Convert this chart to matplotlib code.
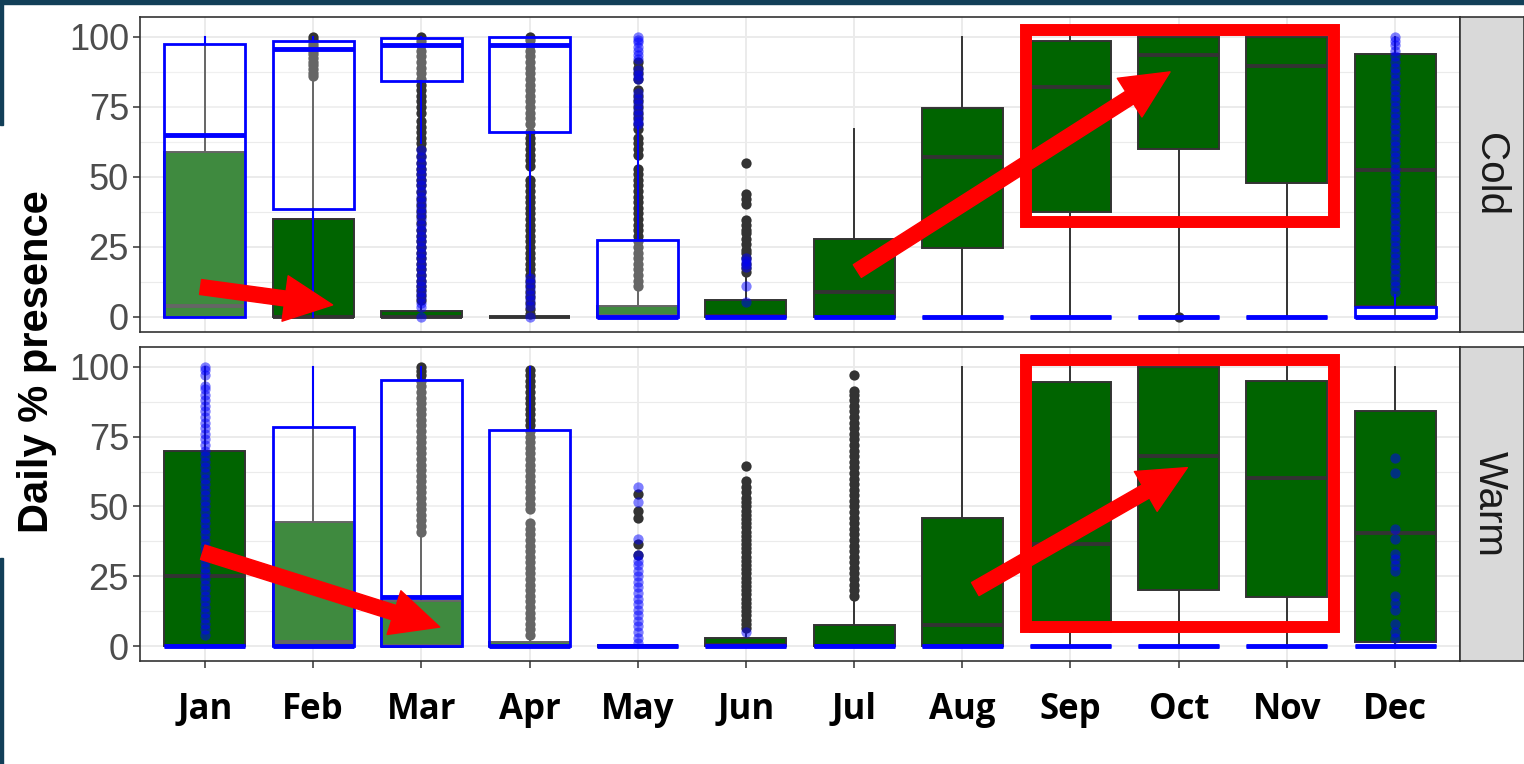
import numpy as np
import matplotlib.pyplot as plt
from matplotlib.patches import Rectangle, FancyArrowPatch

# ---- data ----
months = ["Jan", "Feb", "Mar", "Apr", "May", "Jun", "Jul", "Aug", "Sep", "Oct", "Nov", "Dec"]
yticks = [0, 25, 50, 75, 100]

# Cold panel, green boxplots
cold_g_q1 = [0, 0, 0, 0, 0, 0, 0, 24.5, 37.5, 60, 48, 4]
cold_g_med = [4, 0, 0, 0, 0.5, 0.5, 9, 57, 82, 93.5, 89.5, 52.5]
cold_g_q3 = [59, 35, 2.2, 0, 4, 6, 28, 74.5, 98.5, 100, 100, 94]
cold_g_lo = [0, 0, 0, 0, 0, 0, 0, 0, 0, 1, 0, 0]
cold_g_hi = [100, 85, 5, 0, 10, 14, 67, 100, 100, 100, 100, 100]
cold_g_out = [
    [],
    [86, 87, 88.5, 90, 91, 92.5, 94, 95, 96.5, 97.5, 99, 100],
    [6, 8, 9.5, 11, 13, 15, 17, 19, 21, 23, 25, 27, 29, 31, 33.5, 36, 38, 40, 42, 44.5, 47, 49,
     51, 53, 55, 57.5, 60, 62, 64, 66, 68, 70, 73, 75, 77, 79, 81, 83, 85, 87, 89, 91, 93, 95,
     97, 98.5, 100],
    [1, 3, 5, 7, 9, 11, 13, 15, 17, 19, 21, 23, 25, 27, 29, 31, 33, 35, 37, 39, 41, 43, 45, 47,
     49, 54, 56, 58, 60, 62, 64, 66, 69, 71, 73, 75, 77, 79, 81, 83, 85, 87, 89, 91, 93, 95, 97,
     99, 100],
    [11, 13, 15, 17, 19, 21, 23, 25, 27, 29, 31, 33, 35, 37, 39, 41, 43, 45, 47, 49, 51, 53, 58,
     60, 62, 64, 67, 69, 71, 73, 75, 77, 79, 81, 85, 87, 89, 91],
    [16, 17.5, 19, 21, 23, 24, 26, 28, 30, 31, 33, 34.5, 40.5, 42, 44, 55],
    [], [], [], [0], [], [],
]

# Cold panel, blue boxplots
cold_b_q1 = [0, 38.5, 84.4, 66, 0, 0, 0, 0, 0, 0, 0, 0]
cold_b_med = [65, 95.6, 97, 97, 0, 0, 0, 0, 0, 0, 0, 0]
cold_b_q3 = [97.5, 98.7, 99.7, 99.8, 27.5, 0, 0, 0, 0, 0, 0, 3.5]
cold_b_lo = [0, 0, 62, 15, 0, 0, 0, 0, 0, 0, 0, 0]
cold_b_hi = [100, 100, 100, 100, 68, 0, 0, 0, 0, 0, 0, 8]
cold_b_out = [
    [], [],
    [0, 3.5, 5, 7, 9, 11, 13, 15, 17, 19, 21, 23, 25, 27, 29, 31, 33, 35, 37, 39, 41, 43, 45, 47,
     49, 51, 53, 55, 57, 59.5],
    [0, 4, 6, 8, 10, 12, 14],
    [69, 70, 72, 74, 76, 78, 80, 85, 86.5, 88, 92, 93.5, 95, 96.5, 98, 99, 100],
    [5.5, 11, 18, 19, 20, 21],
    [], [], [], [], [],
    [9, 11, 13, 15, 17, 19, 21, 23, 25, 27, 29, 31, 33, 35, 37, 39, 41, 43, 45, 47, 49, 51, 53,
     55, 57, 59, 61, 63, 65, 67, 69, 71, 73, 75, 77, 79, 81, 83, 85, 87, 89, 91, 93, 95, 97, 98.5,
     100],
]

# Warm panel, green boxplots
warm_g_q1 = [0, 0, 0, 0, 0, 0, 0, 0, 4.9, 20, 17.4, 1.6]
warm_g_med = [25, 1.4, 0, 0, 0, 0.5, 0, 7.6, 36.4, 68.2, 60.2, 40.4]
warm_g_q3 = [70, 44.4, 16, 1.5, 0, 2.7, 7.5, 46, 94.4, 100, 95.1, 84]
warm_g_lo = [0, 0, 0, 0, 0, 0, 0, 0, 0, 0, 0, 0]
warm_g_hi = [100, 100, 40, 3, 0, 6, 17.5, 100, 100, 100, 100, 100]
warm_g_out = [
    [], [],
    [41, 43, 45, 47, 49, 51, 53, 55, 57, 59, 61, 63, 65, 67, 69, 71, 73, 75, 77, 79, 81, 83, 85,
     87, 89, 91, 93, 95, 97, 98.5, 100],
    [4, 6, 8, 10, 12, 14, 16, 18, 20, 22, 24, 26, 28, 30, 32, 34, 36, 38, 40, 42, 44, 49, 51, 53,
     55, 57, 59, 61, 63, 65, 67, 69, 71, 73, 75, 77, 79, 81, 83, 85, 87, 89, 91, 93, 95, 97, 99],
    [32.5, 36.5, 46, 48.5, 54.5],
    [6.5, 8, 9.5, 11, 12.5, 14, 15.5, 17, 18.5, 20, 21.5, 23, 24.5, 26, 27.5, 29, 30.5, 32, 33.5,
     35, 36.5, 38, 39.5, 41, 42.5, 44, 45.5, 47, 48.5, 50, 51.5, 53, 55, 57, 59, 64.5],
    [18, 20, 22, 24, 26, 28, 30, 32, 34, 36, 38, 40, 42, 44, 46, 48, 50, 52, 54, 56, 58, 60, 62,
     64, 66, 68, 70, 72, 74, 76, 78, 80, 82, 84, 86, 88, 90, 91.5, 97],
    [], [], [], [], [],
]

# Warm panel, blue boxplots
warm_b_q1 = [0, 0, 0, 0, 0, 0, 0, 0, 0, 0, 0, 0]
warm_b_med = [0, 0, 17.7, 0, 0, 0, 0, 0, 0, 0, 0, 0]
warm_b_q3 = [0, 78.5, 95.4, 77.3, 0, 0, 0, 0, 0, 0, 0, 0]
warm_b_lo = [0, 0, 0, 0, 0, 0, 0, 0, 0, 0, 0, 0]
warm_b_hi = [0, 100, 100, 100, 0, 0, 0, 0, 0, 0, 0, 0]
warm_b_out = [
    [4, 6, 8, 10, 12, 14, 16, 18, 20, 22, 24, 26, 28, 30, 32, 34, 36, 38, 40, 42, 44, 46, 48, 50,
     52, 54, 56, 58, 60, 62, 64, 66, 68, 70, 72, 74, 76, 78, 80, 82, 84, 86, 88, 90, 92, 93, 97,
     99, 100],
    [], [], [],
    [1, 3, 5, 7, 9, 11, 13, 15, 17, 19, 21, 23, 25, 27, 29, 30.5, 32.5, 38.5, 51.5, 57],
    [5],
    [], [], [], [], [],
    [3, 5, 8, 13, 15.5, 18, 27, 29, 31, 33, 38.5, 42, 62, 67.5],
]

W, H = 1524, 764


def px_rect(l, t, r, b):
    return [l / W, 1 - b / H, (r - l) / W, (b - t) / H]


def boxes(ax, q1, med, q3, lo, hi, out, face, edge, lw, wlw, mlw, fl, z):
    stats = [dict(q1=a, med=m, q3=b, whislo=l, whishi=h, fliers=np.array(f, dtype=float))
             for a, m, b, l, h, f in zip(q1, med, q3, lo, hi, out)]
    ax.bxp(stats, positions=np.arange(1, 13), widths=0.75, patch_artist=True,
           showcaps=False, manage_ticks=False, zorder=z,
           boxprops=dict(facecolor=face, edgecolor=edge, linewidth=lw),
           whiskerprops=dict(color=edge, linewidth=wlw),
           medianprops=dict(color=edge, linewidth=mlw, solid_capstyle='butt'),
           flierprops=fl)


green_fl = dict(marker='o', markerfacecolor='#333333', markeredgecolor='none',
                markersize=7.4, linestyle='none')
blue_fl = dict(marker='o', markerfacecolor='blue', markeredgecolor='none',
               markersize=7.4, linestyle='none', alpha=0.5)

fig = plt.figure(figsize=(15.24, 7.64), dpi=100)
fig.patch.set_facecolor('white')

ax_top = fig.add_axes(px_rect(140, 17, 1460, 332))
ax_bot = fig.add_axes(px_rect(140, 347, 1460, 661))

panels = [
    (ax_top, "Cold", (cold_g_q1, cold_g_med, cold_g_q3, cold_g_lo, cold_g_hi, cold_g_out),
     (cold_b_q1, cold_b_med, cold_b_q3, cold_b_lo, cold_b_hi, cold_b_out), (17, 332)),
    (ax_bot, "Warm", (warm_g_q1, warm_g_med, warm_g_q3, warm_g_lo, warm_g_hi, warm_g_out),
     (warm_b_q1, warm_b_med, warm_b_q3, warm_b_lo, warm_b_hi, warm_b_out), (347, 661)),
]

for ax, name, g, b, (t, btm) in panels:
    boxes(ax, *g, face='#006400', edge='#333333', lw=1.4, wlw=1.4, mlw=2.8, fl=green_fl, z=2)
    boxes(ax, *b, face=(1, 1, 1, 0.25), edge='blue', lw=2.0, wlw=1.5, mlw=3.5, fl=blue_fl, z=3)

    ax.set_xlim(0.4, 12.6)
    ax.set_ylim(-5.36, 107.1)
    ax.set_yticks(yticks)
    ax.set_yticks([12.5, 37.5, 62.5, 87.5], minor=True)
    ax.set_xticks(np.arange(1, 13))
    ax.set_axisbelow(True)
    ax.grid(which='major', color='#ebebeb', linewidth=1.4)
    ax.grid(which='minor', axis='y', color='#ebebeb', linewidth=0.8)
    for s in ax.spines.values():
        s.set_color('#333333')
        s.set_linewidth(1.2)
    ax.tick_params(axis='y', which='major', length=5, width=1.1, color='#333333',
                   labelsize=26, labelcolor='#4d4d4d', pad=3)
    ax.tick_params(which='minor', length=0)
    for lab in ax.get_yticklabels():
        lab.set_fontfamily('Liberation Sans')

    # facet strip on the right
    sax = fig.add_axes(px_rect(1460, t, 1524, btm))
    sax.set_facecolor('#d9d9d9')
    sax.set_xticks([])
    sax.set_yticks([])
    for s in sax.spines.values():
        s.set_color('#333333')
        s.set_linewidth(1.2)
    sax.text(30 / 64, 0.5, name, rotation=-90, ha='center', va='center',
             fontsize=29, color='#1a1a1a', family='Liberation Sans')

ax_top.tick_params(axis='x', length=0, labelbottom=False)
ax_bot.set_xticklabels(months)
ax_bot.tick_params(axis='x', length=5, width=1.1, color='#333333', pad=17)
for lab in ax_bot.get_xticklabels():
    lab.set_fontfamily('Open Sans')
    lab.set_fontweight('bold')
    lab.set_fontsize(25)
    lab.set_color('black')

fig.text(37 / W, 1 - 362 / H, "Daily % presence", rotation=90, ha='center', va='center',
         fontsize=30, fontweight='bold', family='Liberation Sans', color='black')

# red highlight boxes and arrows
for ax, y0, y1 in [(ax_top, 33.75, 102.5), (ax_bot, 6.8, 102.5)]:
    ax.add_patch(Rectangle((8.59, y0), 11.44 - 8.59, y1 - y0, fill=False, edgecolor='red',
                           linewidth=8.6, zorder=20, clip_on=False))

arrows = [
    (ax_top, (0.96, 10.7), (2.18, 4.3)),
    (ax_top, (7.03, 16.4), (9.92, 87.5)),
    (ax_bot, (0.98, 33.6), (3.17, 6.8)),
    (ax_bot, (8.12, 20.4), (10.08, 63.9)),
]
for ax, a, b in arrows:
    ax.add_patch(FancyArrowPatch(a, b, arrowstyle='simple,head_length=34.5,head_width=33,tail_width=10.8',
                                 mutation_scale=1, color='red', shrinkA=0, shrinkB=0,
                                 zorder=21, clip_on=False))

# dark frame remnants of the slide
navy = '#123f58'
fig.add_artist(Rectangle((0, 1 - 4 / H), 1, 4 / H, transform=fig.transFigure, color=navy, zorder=30))
fig.add_artist(Rectangle((0, 1 - 125 / H), 3 / W, 125 / H, transform=fig.transFigure, color=navy, zorder=30))
fig.add_artist(Rectangle((0, 0), 3 / W, (764 - 558) / H, transform=fig.transFigure, color=navy, zorder=30))

fig.savefig('out.png', dpi=100)
